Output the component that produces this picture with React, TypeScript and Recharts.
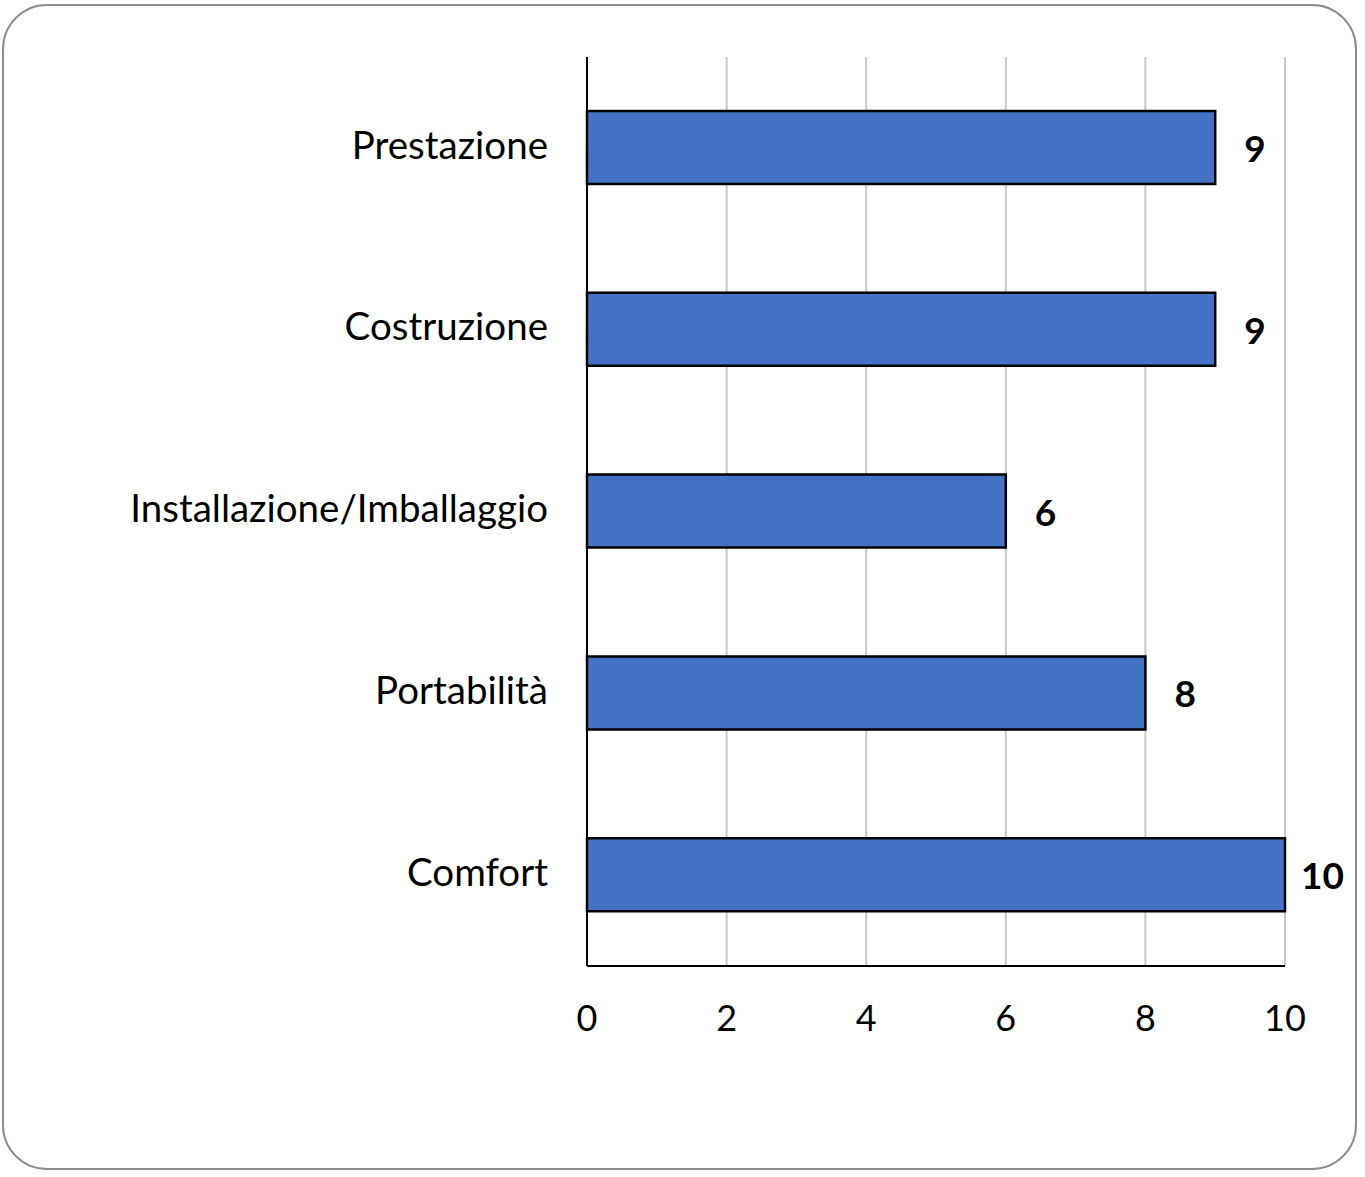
import React from 'react';
import {
  BarChart,
  Bar,
  XAxis,
  YAxis,
  CartesianGrid,
  LabelList,
} from 'recharts';

const categories = [
  'Prestazione',
  'Costruzione',
  'Installazione/Imballaggio',
  'Portabilità',
  'Comfort',
];
const scores = [9, 9, 6, 8, 10];
const xTicks = [0, 2, 4, 6, 8, 10];

const data = categories.map((name, i) => ({ name, score: scores[i] }));

const FONT = 'Lato, "Noto Sans", sans-serif';

// Excel pulls the label in a bit when the bar reaches the axis end
const renderValue = (props: any) => {
  const { x, y, width, height, value } = props;
  const gap = value >= 10 ? 16 : 29;
  return (
    <text
      x={x + width + gap}
      y={y + height / 2}
      fill="#000"
      fontSize={37}
      fontWeight="bold"
      fontFamily={FONT}
      dominantBaseline="central"
    >
      {value}
    </text>
  );
};

export default function App() {
  return (
    <div style={{ position: 'absolute', left: 0, top: 0, width: 1365, height: 1177, background: '#fff' }}>
      <div
        style={{
          position: 'absolute',
          left: 2,
          top: 4,
          width: 1351,
          height: 1162,
          border: '2px solid #8c8c8c',
          borderRadius: 45,
        }}
      />
      <div style={{ position: 'absolute', left: 0, top: 0 }}>
        <BarChart
          width={1365}
          height={1177}
          data={data}
          layout="vertical"
          margin={{ top: 57, right: 80, left: 0, bottom: 0 }}
        >
          <CartesianGrid horizontal={false} stroke="#c8c8c8" strokeWidth={2} />
          <XAxis
            type="number"
            domain={[0, 10]}
            ticks={xTicks}
            height={211}
            tickLine={false}
            tickSize={0}
            tickMargin={39}
            axisLine={{ stroke: '#000', strokeWidth: 2 }}
            tick={{ fill: '#000', fontSize: 36, fontFamily: FONT }}
          />
          <YAxis
            type="category"
            dataKey="name"
            width={587}
            tickLine={false}
            tickSize={0}
            tickMargin={39}
            axisLine={{ stroke: '#000', strokeWidth: 2 }}
            tick={{ fill: '#000', fontSize: 38.5, fontFamily: FONT, dy: -3 }}
          />
          <Bar
            dataKey="score"
            fill="#4472C4"
            stroke="#000"
            strokeWidth={2.5}
            barSize={73}
            isAnimationActive={false}
          >
            <LabelList dataKey="score" content={renderValue} />
          </Bar>
        </BarChart>
      </div>
    </div>
  );
}
